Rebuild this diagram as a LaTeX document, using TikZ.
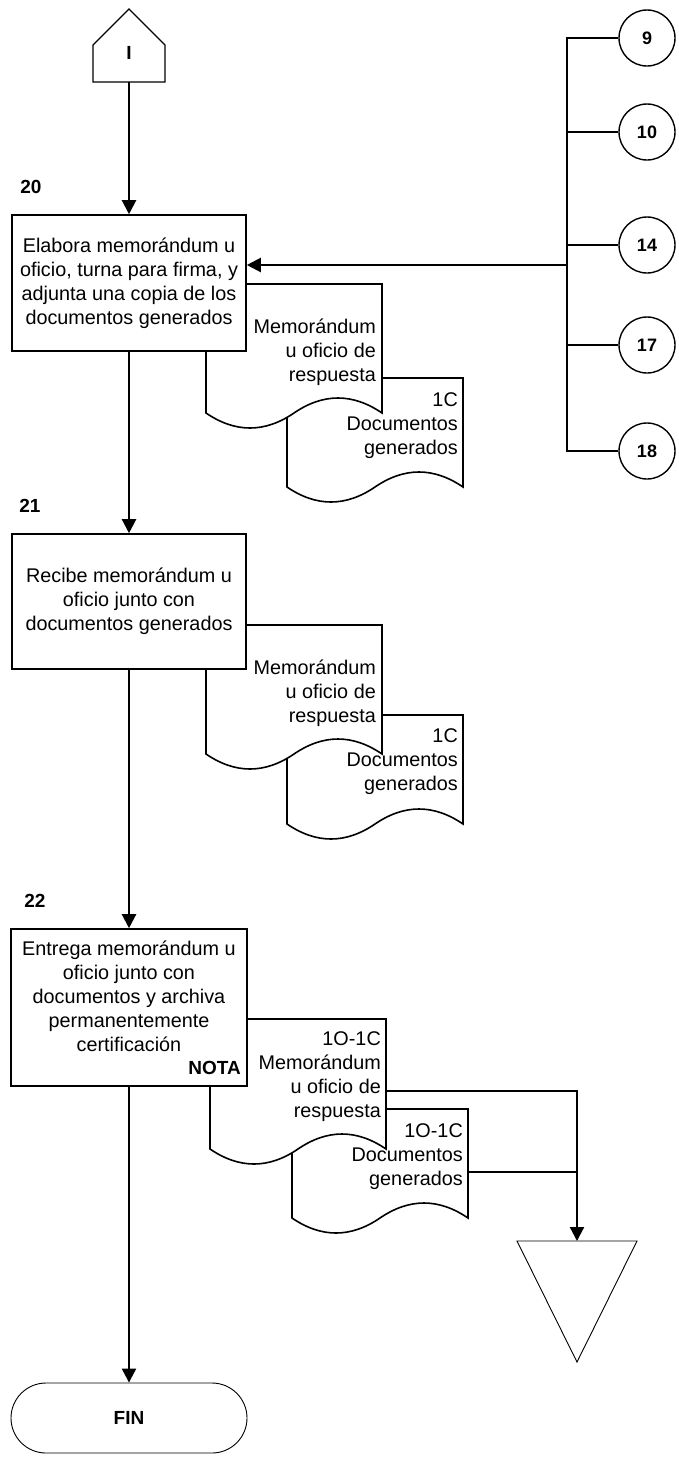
\documentclass[tikz,border=0pt]{standalone}
\usepackage{fontspec}
\setmainfont{Liberation Sans}
\usepackage{tikz}
\usetikzlibrary{arrows.meta, positioning}
\newcommand{\docLine}{1.6pt}
\newcommand{\docshape}[3]{%
    \filldraw[doc, shift={(#1,#2)}] (0,0) -- (176,0) -- (176,#3)
        .. controls (146.7,#3-20) and (117.3,#3-20) .. (88,#3)
        .. controls (58.7,#3+20) and (29.3,#3+20) .. (0,#3) -- cycle;
}
\tikzset{
    txt/.style = {font=\fontsize{19.8}{24}\selectfont, align=center, inner sep=0pt},
    num/.style = {font=\fontsize{19}{23}\selectfont\bfseries, inner sep=0pt},
    proc/.style = {draw, line width=\docLine, fill=white, inner sep=0pt, minimum width=234pt, txt},
    doc/.style = {draw, line width=\docLine, fill=white},
    doctxt/.style = {txt, align=right, anchor=east},
    link/.style = {draw, circle, line width=1.4pt, fill=white, minimum size=56pt, inner sep=0pt,
                   font=\fontsize{18}{22}\selectfont\bfseries},
    flow/.style = {line width=2.2pt, -{Triangle[length=14pt,width=14pt]}},
    wire/.style = {line width=2.2pt},
    thinline/.style = {line width=0.9pt}
}

\begin{document}
\begin{tikzpicture}[x=1pt, y=-1pt]
    \useasboundingbox (0,0) rectangle (679,1459);
    % off-page connector
    \filldraw[line width=1.4pt, fill=white] (93,82) -- (165,82) -- (165,45) -- (129,9) -- (93,45) -- cycle;
    \node[num] (conI) at (129,53) {I};
    \coordinate (conIbot) at (129,82);

    % step 20
    \node[num] (n20) at (31,187) {20};
    \docshape{287}{378}{109}
    \docshape{206}{284}{129}
    \node[proc, minimum height=136pt] (box20) at (129,283)
        {Elabora memorándum u\\oficio, turna para firma, y\\adjunta una copia de los\\documentos generados};
    \node[doctxt] (d20a) at (376,352) {Memorándum\\u oficio de\\respuesta};
    \node[doctxt] (d20b) at (458,426) {1C\\Documentos\\generados};

    % references on the right
    \node[link] (c9) at (647,38) {9};
    \node[link] (c10) at (647,132) {10};
    \node[link] (c14) at (647,245) {14};
    \node[link] (c17) at (647,345) {17};
    \node[link] (c18) at (647,451) {18};
    \coordinate (busTop) at (567,38);
    \coordinate (busBot) at (567,451);
    \coordinate (busOut) at (567,265);
    \draw[wire] (c9) -- (busTop) -- (busBot) -- (c18);
    \foreach \n in {10,14,17}
        \draw[wire] (c\n) -- (c\n -| busTop);

    % step 21
    \node[num] (n21) at (30,506) {21};
    \docshape{287}{715}{109}
    \docshape{206}{625}{129}
    \node[proc, minimum height=135pt] (box21) at (129,601.5)
        {Recibe memorándum u\\oficio junto con\\documentos generados};
    \node[doctxt] (d21a) at (376,693) {Memorándum\\u oficio de\\respuesta};
    \node[doctxt] (d21b) at (458,762) {1C\\Documentos\\generados};

    % step 22
    \node[num] (n22) at (35,901) {22};
    \docshape{292}{1109}{109}
    \docshape{210}{1019}{130}
    \node[proc, minimum width=236pt, minimum height=157pt] (box22) at (129,1007.5) {};
    \node[txt] (t22) at (129,996)
        {Entrega memorándum u\\oficio junto con\\documentos y archiva\\permanentemente\\certificación};
    \node[num, anchor=east] (nota) at (241,1068) {NOTA};
    \node[doctxt] (d22a) at (381,1077) {1O-1C\\Memorándum\\u oficio de\\respuesta};
    \node[doctxt] (d22b) at (463,1157) {1O-1C\\Documentos\\generados};

    % archive
    \coordinate (d22aout) at (387,1091);
    \coordinate (d22bout) at (468,1172);
    \coordinate (arch) at (577,1241);
    \filldraw[thinline, fill=white] (517,1241) -- (637,1241) -- (577,1362) -- cycle;

    \node[draw, thinline, rounded corners=35pt, minimum width=236pt, minimum height=70pt, num] (fin) at (129,1418) {FIN};

    % connectors
    \draw[flow] (conIbot) -- (box20);
    \draw[flow] (busOut) -- (busOut -| box20.east);
    \draw[flow] (box20) -- (box21);
    \draw[flow] (box21) -- (box22);
    \draw[flow] (box22) -- (fin);
    \draw[flow] (d22aout) -| (arch);
    \draw[wire] (d22bout) -- (d22bout -| arch);
\end{tikzpicture}
\end{document}
